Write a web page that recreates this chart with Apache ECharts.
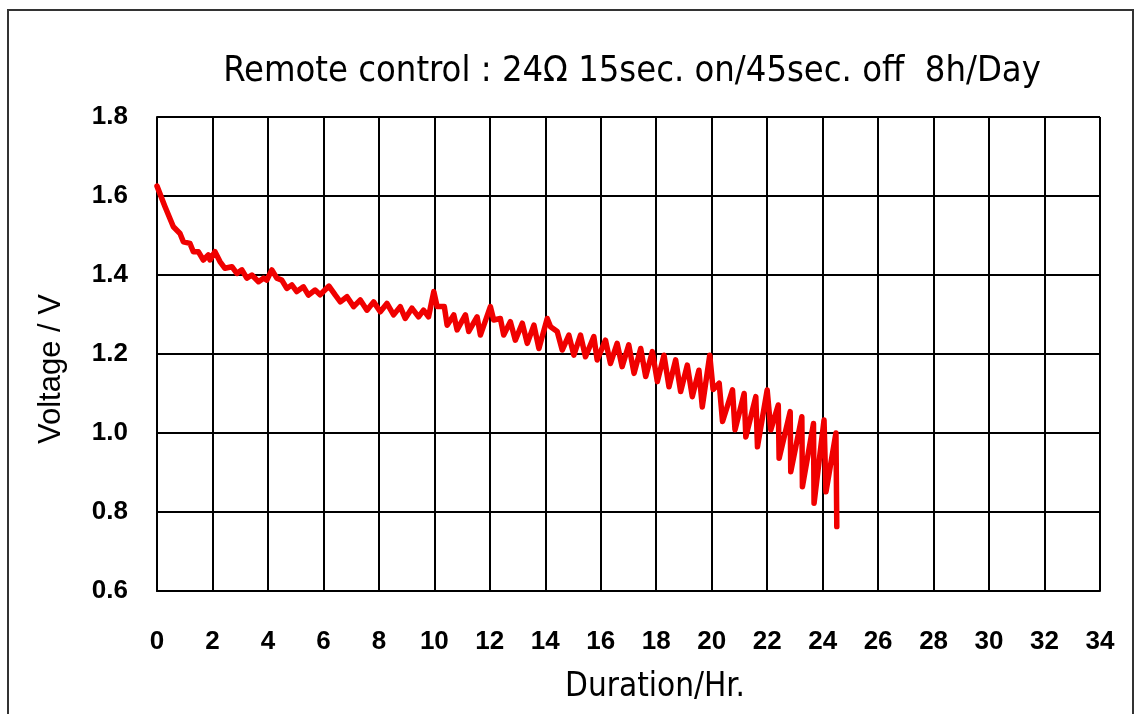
<!DOCTYPE html>
<html>
<head>
<meta charset="utf-8">
<style>html,body{margin:0;padding:0;background:#fff;}#c{width:1140px;height:714px;}</style>
<script src="https://cdn.jsdelivr.net/npm/echarts@6/dist/echarts.min.js"></script>
</head>
<body>
<div id="c"></div>
<script>
const titleText = 'Remote control : 24\u03A9 15sec. on/45sec. off  8h/Day';
const xName = 'Duration/Hr.';
const yName = 'Voltage / V';
const hours = [0.00,0.29,0.59,0.83,0.95,1.19,1.31,1.49,1.67,1.85,1.91,2.09,2.27,2.45,2.70,2.88,3.06,3.24,3.42,3.66,3.84,3.96,4.14,4.32,4.50,4.68,4.86,5.04,5.28,5.46,5.70,5.88,6.20,6.43,6.61,6.85,7.09,7.33,7.57,7.81,8.05,8.29,8.53,8.77,8.95,9.19,9.43,9.61,9.79,9.98,10.10,10.36,10.46,10.70,10.82,11.12,11.24,11.54,11.66,12.02,12.14,12.38,12.50,12.74,12.92,13.17,13.35,13.59,13.77,14.07,14.19,14.43,14.61,14.85,15.03,15.27,15.45,15.75,15.87,16.17,16.35,16.59,16.77,17.01,17.20,17.44,17.62,17.86,18.04,18.28,18.46,18.70,18.88,19.12,19.30,19.54,19.66,19.93,20.05,20.27,20.39,20.75,20.84,21.17,21.23,21.59,21.65,22.00,22.13,22.40,22.43,22.83,22.85,23.25,23.27,23.67,23.69,24.05,24.12,24.48,24.51];
const volts = [1.625,1.573,1.522,1.505,1.484,1.480,1.459,1.459,1.438,1.451,1.438,1.459,1.434,1.417,1.421,1.404,1.413,1.392,1.400,1.383,1.392,1.387,1.413,1.392,1.387,1.366,1.375,1.358,1.370,1.349,1.362,1.350,1.372,1.349,1.332,1.345,1.320,1.337,1.311,1.332,1.307,1.328,1.299,1.320,1.290,1.316,1.294,1.311,1.294,1.358,1.320,1.320,1.273,1.299,1.261,1.299,1.257,1.294,1.248,1.320,1.286,1.290,1.248,1.282,1.235,1.278,1.227,1.273,1.214,1.290,1.269,1.257,1.210,1.248,1.197,1.248,1.193,1.244,1.185,1.235,1.176,1.227,1.168,1.223,1.151,1.214,1.143,1.206,1.130,1.197,1.117,1.185,1.105,1.172,1.092,1.159,1.066,1.197,1.110,1.126,1.029,1.109,1.008,1.100,0.990,1.092,0.965,1.109,1.008,1.071,0.936,1.054,0.902,1.041,0.864,1.024,0.822,1.033,0.851,1.000,0.763];
const xMin = 0, xMax = 34, xStep = 2;
const yMin = 0.6, yMax = 1.8, yStep = 0.2;

const chart = echarts.init(document.getElementById('c'), null, {renderer: 'canvas'});
const narrow = "'Liberation Sans Narrow','DejaVu Sans Condensed',sans-serif";
const sans = "'Liberation Sans',Arial,sans-serif";
chart.setOption({
  animation: false,
  backgroundColor: '#fff',
  grid: {left: 157, right: 40, top: 117, bottom: 123},
  xAxis: {
    type: 'value', min: xMin, max: xMax, interval: xStep,
    axisLine: {show: true, lineStyle: {color: '#000', width: 2}},
    axisTick: {show: false},
    axisLabel: {color: '#000', fontSize: 26, fontFamily: sans, fontWeight: 'bold', margin: 38},
    splitLine: {show: true, lineStyle: {color: '#000', width: 2}}
  },
  yAxis: {
    type: 'value', min: yMin, max: yMax, interval: yStep,
    axisLine: {show: true, lineStyle: {color: '#000', width: 2}},
    axisTick: {show: false},
    axisLabel: {color: '#000', fontSize: 26, fontFamily: sans, fontWeight: 'bold', margin: 29,
      formatter: v => v.toFixed(1)},
    splitLine: {show: true, lineStyle: {color: '#000', width: 2}}
  },
  graphic: [
    {type: 'rect', shape: {x: 8, y: 10, width: 1125, height: 730}, style: {fill: 'none', stroke: '#333', lineWidth: 2}, silent: true},
    {type: 'line', shape: {x1: 1100, y1: 117, x2: 1100, y2: 591}, style: {stroke: '#000', lineWidth: 2}},
    {type: 'line', shape: {x1: 157, y1: 117, x2: 1100, y2: 117}, style: {stroke: '#000', lineWidth: 2}},
    {type: 'text', x: 632, y: 72, style: {text: titleText, font: '36px ' + narrow, fill: '#000', textAlign: 'center', textVerticalAlign: 'middle'}},
    {type: 'text', x: 655, y: 687, style: {text: xName, font: '33px ' + narrow, fill: '#000', textAlign: 'center', textVerticalAlign: 'middle'}},
    {type: 'text', x: 51, y: 369, rotation: Math.PI / 2, style: {text: yName, font: '31px ' + sans, fill: '#000', textAlign: 'center', textVerticalAlign: 'middle'}}
  ],
  series: [{
    type: 'line',
    data: hours.map((h, i) => [h, volts[i]]),
    showSymbol: false,
    symbol: 'none',
    lineStyle: {color: '#f00000', width: 5.5, join: 'round', cap: 'round'},
    smooth: false,
    z: 5
  }]
});
</script>
</body>
</html>
